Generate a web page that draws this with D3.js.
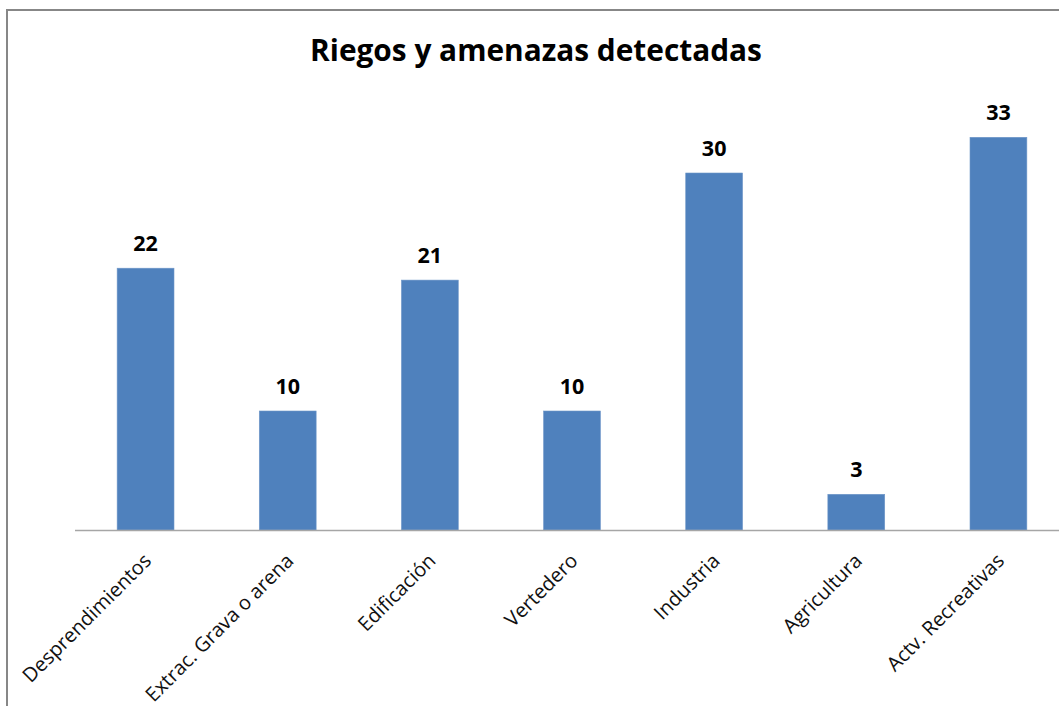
<!DOCTYPE html>
<html>
<head>
<meta charset="utf-8">
<script src="https://cdn.jsdelivr.net/npm/d3@7"></script>
<style>
  html, body { margin: 0; padding: 0; background: #ffffff; overflow: hidden; }
  svg { display: block; }
</style>
</head>
<body>
<svg id="chart" width="1059" height="706"></svg>
<script>
// Risks and threats counted per category
const categories = ["Desprendimientos", "Extrac. Grava o arena", "Edificación", "Vertedero", "Industria", "Agricultura", "Actv. Recreativas"];
const counts = [22, 10, 21, 10, 30, 3, 33];
const chartTitle = "Riegos y amenazas detectadas";

const svg = d3.select("#chart");
const W = 1059, H = 706;

// chart frame (extends past the right and bottom edges)
svg.append("rect")
  .attr("x", 7).attr("y", 10)
  .attr("width", W + 40).attr("height", H + 40)
  .attr("fill", "#ffffff")
  .attr("stroke", "#878787").attr("stroke-width", 2);

const plot = { left: 74.5, right: 1069.5, top: 113.5, bottom: 530 };

const x = d3.scaleBand()
  .domain(categories)
  .range([plot.left, plot.right])
  .paddingInner(0.6)
  .paddingOuter(0.3);

const y = d3.scaleLinear()
  .domain([0, 35])
  .range([plot.bottom, plot.top]);

// bars
svg.append("g").selectAll("rect")
  .data(categories)
  .join("rect")
  .attr("x", (d) => x(d))
  .attr("y", (d, i) => y(counts[i]))
  .attr("width", x.bandwidth())
  .attr("height", (d, i) => y(0) - y(counts[i]))
  .attr("fill", "#4f81bd")
  .attr("stroke", "#6f97c8")
  .attr("stroke-width", 0.6);

// category axis
const xAxis = svg.append("g")
  .attr("transform", `translate(0,${plot.bottom})`)
  .call(d3.axisBottom(x).tickSize(0).tickPadding(0));
xAxis.select(".domain")
  .attr("stroke", "#a6a6a6")
  .attr("stroke-width", 1.4);
xAxis.selectAll(".tick text")
  .attr("fill", "#111111")
  .style("font-family", "'Open Sans', sans-serif")
  .style("font-size", "20px")
  .attr("text-anchor", "end")
  .attr("x", 0).attr("y", 0).attr("dy", "0.78em")
  .attr("transform", "translate(-4,21) rotate(-45)");

// value labels
svg.append("g").selectAll("text")
  .data(categories)
  .join("text")
  .attr("x", (d) => x(d) + x.bandwidth() / 2)
  .attr("y", (d, i) => y(counts[i]) - 17)
  .attr("text-anchor", "middle")
  .style("font-family", "'Open Sans', sans-serif")
  .style("font-weight", "bold")
  .style("font-size", "21.5px")
  .attr("fill", "#000000")
  .text((d, i) => counts[i]);

// title
const title = svg.append("text")
  .attr("x", 536).attr("y", 61)
  .attr("text-anchor", "middle")
  .style("font-family", "'Open Sans', sans-serif")
  .style("font-weight", "bold")
  .style("font-size", "26px")
  .attr("fill", "#000000")
  .text(chartTitle);
// scale the title so it spans its intended width
const tw = title.node().getComputedTextLength();
title.style("font-size", (26 * 452 / tw).toFixed(2) + "px");
</script>
</body>
</html>
